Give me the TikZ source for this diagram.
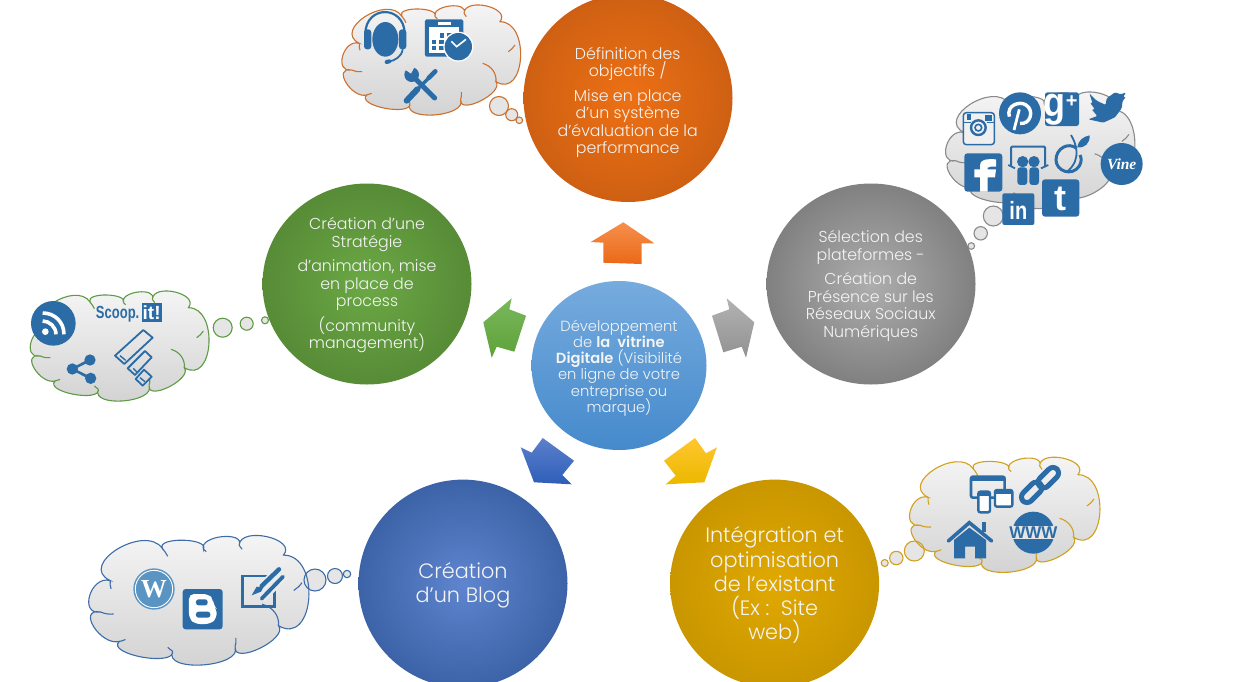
\documentclass[tikz,border=0pt]{standalone}
\usepackage{fontspec}
\usepackage{graphicx}
\usetikzlibrary{calc,shapes.geometric}
\setmainfont{Poppins}[UprightFont=* Light,BoldFont=* SemiBold]
\newfontfamily\logofont{Liberation Sans}
\newfontfamily\seriffont{Liberation Serif}
\setlength{\normallineskiplimit}{-20pt}
\setlength{\lineskiplimit}{-20pt}
\definecolor{ico}{HTML}{2C6CA6}
\definecolor{txtc}{HTML}{F4F4F4}
\definecolor{corange}{HTML}{CC7030}
\definecolor{cgreen}{HTML}{5F9A45}
\definecolor{cblue}{HTML}{3D6CA8}
\definecolor{cyellow}{HTML}{D1A020}
\definecolor{cgray}{HTML}{8A8A8A}
\definecolor{wpc}{HTML}{5994C2}
\definecolor{mtop}{HTML}{76ABDE}
\definecolor{mbot}{HTML}{458ACC}
\definecolor{aot}{HTML}{F58F4D}
\definecolor{aob}{HTML}{EB6917}
\definecolor{agt}{HTML}{7AB85C}
\definecolor{agb}{HTML}{5EA138}
\definecolor{abt}{HTML}{5C80CC}
\definecolor{abb}{HTML}{2E5EB8}
\definecolor{ayt}{HTML}{FFC72E}
\definecolor{ayb}{HTML}{EBB800}
\pgfdeclareradialshading{shorange}{\pgfpoint{0bp}{0bp}}{rgb(0bp)=(0.93,0.44,0.08);rgb(35.4bp)=(0.76,0.35,0.07);rgb(50bp)=(0.76,0.35,0.07)}
\pgfdeclareradialshading{shgray}{\pgfpoint{0bp}{0bp}}{rgb(0bp)=(0.68,0.68,0.68);rgb(35.4bp)=(0.43,0.43,0.43);rgb(50bp)=(0.43,0.43,0.43)}
\pgfdeclareradialshading{shgreen}{\pgfpoint{0bp}{0bp}}{rgb(0bp)=(0.42,0.66,0.27);rgb(35.4bp)=(0.31,0.50,0.19);rgb(50bp)=(0.31,0.50,0.19)}
\pgfdeclareradialshading{shblue}{\pgfpoint{0bp}{0bp}}{rgb(0bp)=(0.37,0.52,0.81);rgb(35.4bp)=(0.18,0.33,0.59);rgb(50bp)=(0.18,0.33,0.59)}
\pgfdeclareradialshading{shyellow}{\pgfpoint{0bp}{0bp}}{rgb(0bp)=(0.88,0.66,0.0);rgb(35.4bp)=(0.75,0.56,0.0);rgb(50bp)=(0.75,0.56,0.0)}
\tikzset{
  disc/.style={shape=ellipse,inner sep=0pt,minimum width=209pt,minimum height=208pt},
  small/.style={text=txtc,align=center,font=\fontsize{15.8}{17.6}\selectfont,inner sep=0pt},
  centre/.style={text=txtc,align=center,font=\fontsize{14.7}{16.2}\selectfont,inner sep=0pt},
  large/.style={text=txtc,align=center,font=\fontsize{20.8}{24.3}\selectfont,inner sep=0pt},
  cloudline/.style={line width=1.1pt},
  cloudfill/.style={top color=white!97!black,bottom color=black!18,draw=#1,line width=1.1pt},
  bubble/.style={fill=black!10},
  icon/.style={fill=ico},
  iconline/.style={draw=ico},
  logo/.style={inner sep=0pt,text=white}
}
\newcommand{\lb}[3]{.. controls ($0.483*(#1)+1.333*(#2)-0.817*(#3)$) and ($0.483*(#3)+1.333*(#2)-0.817*(#1)$) .. (#3)}
\newcommand{\cloudshape}[1]{%
  \draw[cloudfill=#1] (88,130) \lb{88,130}{38,168}{65,210} \lb{65,210}{48,248}{110,285}
    \lb{110,285}{165,325}{240,310} \lb{240,310}{315,345}{392,298}
    \lb{392,298}{452,303}{498,245} \lb{498,245}{572,175}{510,65}
    \lb{510,65}{470,18}{402,40} \lb{402,40}{360,18}{315,50}
    \lb{315,50}{265,27}{215,48} \lb{215,48}{105,50}{88,130} -- cycle;
  \draw[#1,cloudline] (65,210) .. controls (75,215) and (85,216) .. (96,215);
  \draw[#1,cloudline] (110,285) .. controls (115,284) and (120,283) .. (125,280);
  \draw[#1,cloudline] (240,310) .. controls (236,307) and (232,304) .. (228,300);
  \draw[#1,cloudline] (392,298) .. controls (394,292) and (395,285) .. (394,276);
  \draw[#1,cloudline] (498,245) .. controls (500,220) and (485,198) .. (458,190);
  \draw[#1,cloudline] (535,155) .. controls (543,150) and (550,143) .. (555,135);
  \draw[#1,cloudline] (402,40) .. controls (405,43) and (407,46) .. (409,50);
  \draw[#1,cloudline] (315,50) .. controls (318,52) and (320,54) .. (322,56);
  \draw[#1,cloudline] (215,48) .. controls (220,54) and (224,60) .. (228,68);
  \draw[#1,cloudline] (88,130) .. controls (87,137) and (88,144) .. (90,151);
}
\newcommand{\bubfill}[3]{\path[bubble] (#1,#2) circle[radius=#3];}
\newcommand{\bubline}[4]{\draw[#4,line width=1.1pt] (#1,#2) circle[radius=#3];}
\begin{document}
\begin{tikzpicture}[x=1pt,y=-1pt]
\useasboundingbox (0,0) rectangle (1238,681);
\clip (0,0) rectangle (1238,681);

% ---- discs and their texts
\node[disc,shading=shorange] (dobj) at (628,98) {};
\node[small] (tobj) at (627.7,102.4) {Définition des\\objectifs /\\[6.8pt]Mise en place\\d’un système\\d’évaluation de la\\performance};
\node[disc,shading=shgray,minimum height=201pt] (dsel) at (871,284) {};
\node[small] (tsel) at (870.7,285.8) {Sélection des\\plateformes -\\[6.8pt]Création de\\Présence sur les\\Réseaux Sociaux\\Numériques};
\node[disc,shading=shgreen,minimum height=201pt] (dstr) at (367,284) {};
\node[small] (tstr) at (367,285.3) {Création d’une\\Stratégie\\[6.8pt]d’animation, mise\\en place de\\process\\[6.8pt](community\\management)};
\node[disc,shading=shblue] (dblog) at (463,583.6) {};
\node[large] (tblog) at (463,585.3) {Création\\d’un Blog};
\node[disc,shading=shyellow] (dint) at (774.6,583.6) {};
\node[large] (tint) at (774.6,585.3) {Intégration et\\optimisation\\de l’existant\\(Ex :\ \ Site\\web)};
\node[shape=ellipse,inner sep=0pt,minimum width=175pt,minimum height=169pt,top color=mtop,bottom color=mbot] (dmain) at (619,365.5) {};
\node[centre] (tmain) at (619,368) {Développement\\de \textbf{la\ \ vitrine}\\\textbf{Digitale} (Visibilité\\en ligne de votre\\entreprise ou\\marque)};

% ---- block arrows
\path[top color=aot,bottom color=aob] (623.3,222.3)--(654.3,243.3)--(641.7,243.3)--(641.7,264)--(603.3,262.7)--(603.3,242.7)--(590.7,242)--cycle;
\path[top color=agt,bottom color=agb] (511.7,298.3)--(509.3,309.3)--(526,315.7)--(514.3,351.7)--(496.7,346.7)--(491.7,357.7)--(483.3,322.3)--cycle;
\path[top color=black!30,bottom color=black!43] (726.7,298.3)--(729.3,309.3)--(712,315.7)--(723.3,352.3)--(741.7,346.7)--(746,357.7)--(754.3,322.3)--cycle;
\path[top color=abt,bottom color=abb] (542.7,438)--(574,460.7)--(562.3,475)--(571.7,484.3)--(534,482.3)--(520.7,447.3)--(531.7,452.7)--cycle;
\path[top color=ayt,bottom color=ayb] (695,438)--(664,460.7)--(675.7,475.7)--(665.7,484.3)--(704.3,482.3)--(717,447.3)--(706,453.3)--cycle;

% ---- orange cloud
\bubfill{499}{106}{9.5}\bubfill{511.7}{114.7}{6}\bubfill{519.3}{120.3}{3.3}
\begin{scope}[shift={(330,0)},scale=0.3333]
\cloudshape{corange}
% headset
\fill[icon] (166,118) ellipse[x radius=39,y radius=52];
\draw[iconline,line width=2.2pt] (106,100) .. controls (108,15) and (222,15) .. (224,100);
\fill[icon,rounded corners=3pt] (102,88) rectangle (124,148);
\fill[icon,rounded corners=3pt] (207,88) rectangle (229,148);
\draw[iconline,line width=1.8pt] (218,148) .. controls (215,170) and (195,182) .. (175,185);
\draw[iconline,line width=4pt,line cap=round] (170,186)--(178,184);
% calendar
\fill[icon,rounded corners=1.5pt] (285,58) rectangle (400,170);
\fill[white] (297,82) rectangle (388,158);
\fill[white] (325,67) rectangle (362,76);
\foreach \a/\b in {330/100,352/100,305/120,328/120,352/120,305/138,328/138}{\fill[icon] (\a,\b) rectangle ++(13,13);}
\fill[white] (385,140) circle[radius=45];
\fill[icon] (385,140) circle[radius=41];
\draw[white,line width=1.6pt] (364,124)--(380,140)--(408,118);
% tools
\draw[iconline,line width=6pt,line cap=round] (230,302)--(262,268);
\draw[iconline,line width=3.4pt] (262,268)--(300,230);
\draw[iconline,line width=4.6pt,line cap=round] (296,234)--(316,214);
\draw[iconline,line width=5pt,line cap=round] (314,294)--(252,232);
\fill[icon] (245,224) circle[radius=22];
\fill[black!12] (222,207)--(243,221)--(255,198)--(235,190)--cycle;
\end{scope}
\bubline{499}{106}{9.5}{corange}\bubline{511.7}{114.7}{6}{corange}\bubline{519.3}{120.3}{3.3}{corange}

% ---- gray cloud
\bubfill{993.3}{216}{10}\bubfill{980.7}{233.3}{6.7}\bubfill{971.3}{246}{3.3}
\begin{scope}[shift={(933,86.7)},scale=0.353]
\cloudshape{cgray}
\end{scope}
\bubline{993.3}{216}{10}{cgray}\bubline{980.7}{233.3}{6.7}{cgray}\bubline{971.3}{246}{3.3}{cgray}
\begin{scope}[shift={(940,80)},scale=0.3333]
% instagram
\fill[black!6,rounded corners=2.5pt] (70,98) rectangle (163,194);
\draw[iconline,line width=1.5pt,rounded corners=3pt] (70,98) rectangle (163,194);
\draw[iconline,line width=0.8pt] (72,126)--(92,126) (140,126)--(161,126);
\fill[icon] (80,103) rectangle (94,120);
\fill[icon] (136,105) rectangle (156,123);
\draw[iconline,line width=2.4pt] (115,143) circle[radius=22];
\draw[iconline,line width=1.6pt] (115,143) circle[radius=10];
% pinterest
\fill[icon] (240,100) circle[radius=63];
\draw[white,line width=2.8pt] (222,150)--(238,88);
\draw[white,line width=3.4pt] (208,110) .. controls (198,75) and (240,62) .. (258,75) .. controls (285,92) and (270,135) .. (240,130);
% google+
\fill[icon,rounded corners=2.5pt] (315,37) rectangle (417,138);
\node[logo,font=\logofont\bfseries\fontsize{36}{36}\selectfont] (gglg) at (342,88) {\scalebox{1}[1.15]{g}};
\node[logo,font=\logofont\bfseries\fontsize{20}{20}\selectfont] (gglp) at (395,65) {+};
% twitter
\fill[icon,rounded corners=1.2pt] (448,40)--(470,62)--(497,75)--(500,55)--(525,37)--(543,43)--(558,37)--(549,52)--(558,50)--(548,63)--(545,85)--(525,112)--(490,128)--(445,118)--(472,108)--(455,88)--(465,88)--(450,68)--(458,70)--cycle;
% facebook
\fill[icon,rounded corners=3pt] (73,220) rectangle (187,335);
\fill[white] (120,335)--(120,292)--(103,292)--(103,268)--(120,268)--(120,256) .. controls (120,240) and (135,236) .. (168,238) -- (168,260)--(152,260)--(143,263)--(143,268)--(168,268)--(165,292)--(143,292)--(143,335)--cycle;
% slideshare
\draw[iconline,line width=2pt,rounded corners=1pt] (213,258)--(213,200)--(315,200)--(315,258);
\draw[iconline,line width=1.8pt] (205,255)--(225,265) (325,255)--(303,265);
\fill[icon] (248,245) circle[radius=17];
\fill[icon] (282,245) circle[radius=17];
\fill[icon,rounded corners=3pt] (232,262) rectangle (262,315);
\fill[icon,rounded corners=3pt] (268,262) rectangle (297,315);
% sprout
\draw[iconline,line width=3pt] (410,205) .. controls (385,185) and (348,205) .. (348,240) .. controls (348,272) and (395,292) .. (418,258) .. controls (425,245) and (425,235) .. (420,225);
\draw[iconline,line width=1.8pt] (393,165) .. controls (408,190) and (425,235) .. (385,272);
\fill[icon] (412,202) .. controls (415,180) and (430,170) .. (449,166) .. controls (450,190) and (435,205) .. (412,202) -- cycle;
% vine
\fill[icon] (545,252) circle[radius=63];
\node[logo,font=\seriffont\itshape\bfseries\fontsize{15.5}{15.5}\selectfont] (vine) at (545,254) {Vine};
% linkedin
\fill[icon,rounded corners=2pt] (187,340) rectangle (283,435);
\node[logo,font=\logofont\bfseries\fontsize{20}{20}\selectfont] (lkin) at (235,390) {\scalebox{1}[1.25]{in}};
% tumblr
\fill[icon,rounded corners=3pt] (306,298) rectangle (418,410);
\node[logo,font=\logofont\bfseries\fontsize{36}{36}\selectfont] (tumb) at (362,356) {t};
\end{scope}

% ---- green cloud
\bubfill{222.7}{327.7}{9.5}\bubfill{246.7}{323.7}{6.5}\bubfill{265}{320.3}{3.5}
\begin{scope}[shift={(18.4,286)},scale=0.3333]
\cloudshape{cgreen}
\end{scope}
\bubline{222.7}{327.7}{9.5}{cgreen}\bubline{246.7}{323.7}{6.5}{cgreen}\bubline{265}{320.3}{3.5}{cgreen}
\begin{scope}[shift={(20,285)},scale=0.3333]
% rss
\fill[icon] (100,115) circle[radius=67];
\fill[white] (76,140) circle[radius=10];
\draw[white,line width=3.6pt] (68,108) .. controls (88,108) and (108,125) .. (108,148);
\draw[white,line width=3.6pt] (68,84) .. controls (105,84) and (132,112) .. (132,148);
% scoop.it
\node[inner sep=0pt,text=ico,font=\logofont\bfseries\fontsize{13}{13}\selectfont] (scoop) at (293,87) {\scalebox{1}[1.35]{Scoop.}};
\fill[icon] (365,55) rectangle (425,112);
\node[logo,font=\logofont\bfseries\fontsize{19}{19}\selectfont] (scit) at (395,84) {it!};
% buffer-like bars
\draw[iconline,line width=1.8pt,line join=round] (285,212)--(370,135)--(398,158)--(313,237)--cycle;
\draw[iconline,line width=1.8pt,line join=round] (323,250)--(375,198)--(395,217)--(345,270)--cycle;
\draw[iconline,line width=1.8pt,line join=round] (347,282)--(372,254)--(395,275)--(368,302)--cycle;
\draw[iconline,line width=1.4pt] (300,212)--(317,226) (340,250)--(352,262) (360,278)--(375,290);
% share
\draw[iconline,line width=2.6pt] (210,225)--(157,252)--(212,280);
\fill[icon] (210,225) circle[radius=17];
\fill[icon] (157,252) circle[radius=17];
\fill[icon] (212,280) circle[radius=17];
\end{scope}

% ---- blue cloud
\bubfill{315}{580}{11}\bubfill{335}{576}{7.5}\bubfill{347}{574}{3.7}
\begin{scope}[shift={(74.1,529.6)},xscale=0.4106,yscale=0.3924]
\cloudshape{cblue}
\end{scope}
\bubline{315}{580}{11}{cblue}\bubline{335}{576}{7.5}{cblue}\bubline{347}{574}{3.7}{cblue}
\begin{scope}[shift={(85,530)},scale=0.3333]
% wordpress
\fill[wpc] (207,177) circle[radius=62];
\draw[white,line width=0.9pt] (207,177) circle[radius=56];
\node[logo,font=\seriffont\bfseries\fontsize{26}{26}\selectfont] (wpw) at (207,178) {W};
% blogger
\fill[icon,rounded corners=3pt] (293,177) rectangle (413,298);
\fill[white,rounded corners=5pt] (312,192)--(370,192)--(385,208)--(385,226)--(395,236)--(395,265)--(376,282)--(330,282)--(312,265)--cycle;
\fill[icon,rounded corners=2.5pt] (333,208) rectangle (368,226);
\fill[icon,rounded corners=2.5pt] (333,245) rectangle (376,263);
% edit
\draw[iconline,line width=2.8pt] (472,138) rectangle (568,230);
\draw[black!8,line width=9pt] (520,180)--(590,112) (530,205)--(600,135);
\draw[iconline,line width=4.4pt,line cap=round] (530,168)--(582,118);
\fill[icon] (500,196)--(515,170)--(535,172)--(528,185)--cycle;
\draw[iconline,line width=3.8pt,line cap=round] (530,206)--(594,140);
\end{scope}

% ---- yellow cloud
\bubfill{914.3}{551}{10}\bubfill{896.3}{558}{6.7}\bubfill{884.7}{563}{3.5}
\begin{scope}[shift={(896.9,452)},xscale=0.355,yscale=0.3486]
\cloudshape{cyellow}
\end{scope}
\bubline{914.3}{551}{10}{cyellow}\bubline{896.3}{558}{6.7}{cyellow}\bubline{884.7}{563}{3.5}{cyellow}
\begin{scope}[shift={(880,455)},scale=0.3333]
% windows
\draw[iconline,line width=2.6pt,rounded corners=2pt] (273,65) rectangle (374,128);
\fill[icon] (273,65) rectangle (374,79);
\fill[white,rounded corners=2pt] (295,110) rectangle (330,172);
\draw[iconline,line width=2.4pt,rounded corners=2pt] (295,110) rectangle (330,172);
\fill[icon] (295,110) rectangle (330,122);
\fill[white,rounded corners=2pt] (345,105) rectangle (397,155);
\draw[iconline,line width=2.4pt,rounded corners=2pt] (345,105) rectangle (397,155);
\fill[icon] (345,105) rectangle (397,118);
% chain
\draw[iconline,line width=5pt,rounded corners=6pt] (493,98)--(469,74)--(417,126)--(441,150)--cycle;
\draw[iconline,line width=5pt,rounded corners=6pt] (543,54)--(519,30)--(467,82)--(491,106)--cycle;
% home
\draw[iconline,line width=3.6pt,line cap=round] (205,258)--(268,203)--(335,258);
\fill[icon] (305,200) rectangle (318,232);
\fill[icon] (222,255)--(268,218)--(318,255)--(318,310)--(285,310)--(285,275)--(255,275)--(255,310)--(222,310)--cycle;
% www
\fill[icon] (460,233) circle[radius=63];
\fill[black!10] (395,212) rectangle (525,253);
\node[inner sep=0pt,text=ico,font=\logofont\bfseries\fontsize{17}{17}\selectfont] (www) at (460,233) {WWW};
\end{scope}
\end{tikzpicture}
\end{document}
